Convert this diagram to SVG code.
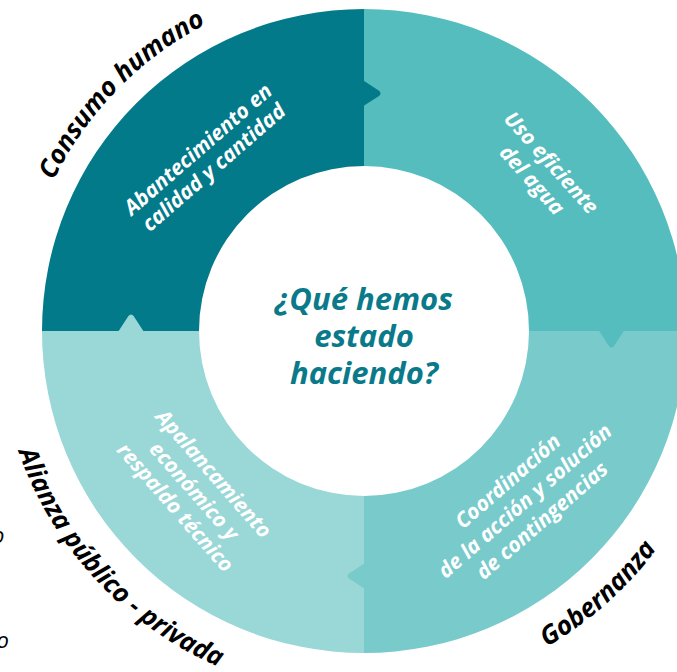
<svg xmlns="http://www.w3.org/2000/svg" width="677" height="672" viewBox="0 0 677 672">
<style>
.q1{fill:#037A8A}.q2{fill:#55BDBD}.q3{fill:#79CBCB}.q4{fill:#9AD7D7}
.outer{font-family:"Open Sans","Liberation Sans",sans-serif;font-style:italic;font-weight:700;font-size:26px;fill:#000}
.inner{font-family:"Open Sans","Liberation Sans",sans-serif;font-style:italic;font-weight:700;font-size:21px;fill:#fff;text-anchor:middle}
.center{font-family:"Open Sans","Liberation Sans",sans-serif;font-style:italic;font-weight:700;font-size:31px;fill:#0A7A8A;text-anchor:middle}
.stray{font-family:"Open Sans","Liberation Sans",sans-serif;font-style:italic;font-weight:400;font-size:22px;fill:#000;text-anchor:end}
</style>
<defs>
<path id="tab" d="M-1,-13 L15,-2.6 Q18,0 15,2.6 L-1,13 Z"/>
<path id="pConsumo" d="M31.9,424.4 A345 345 0 0 1 449.2,-3.3"/>
<path id="pRiego" d="M425.6,-18.6 A355 355 0 0 1 635.9,559.2"/>
<path id="pGob" d="M249.4,677.5 A365 365 0 0 0 721.4,257.0"/>
<path id="pAlianza" d="M14.2,223.4 A366 366 0 0 0 445.7,687.8"/>
</defs>
<g id="ring">
<g id="node-consumo">
<path class="q1" d="M42,331 A322 322 0 0 1 364,9 L364,166 A165 165 0 0 0 199,331 Z"/>
</g>
<g id="node-riego">
<path class="q2" d="M364,9 A322 322 0 0 1 686,331 L529,331 A165 165 0 0 0 364,166 Z"/>
</g>
<g id="node-gobernanza">
<path class="q3" d="M686,331 A322 322 0 0 1 364,653 L364,496 A165 165 0 0 0 529,331 Z"/>
</g>
<g id="node-alianza">
<path class="q4" d="M364,653 A322 322 0 0 1 42,331 L199,331 A165 165 0 0 0 364,496 Z"/>
</g>
</g>
<g id="connectors">
<use href="#tab" class="q1" transform="translate(364,93.3)"/>
<use href="#tab" class="q2" transform="translate(611.5,331) rotate(90)"/>
<use href="#tab" class="q3" transform="translate(364,576) rotate(180)"/>
<use href="#tab" class="q4" transform="translate(131,331) rotate(-90)"/>
</g>
<g id="labels-inner">
<text class="inner" transform="translate(206,158.5) rotate(-41)"><tspan x="0" y="-5">Abantecimiento en</tspan><tspan x="0" y="19">calidad y cantidad</tspan></text>
<text class="inner" transform="translate(541.5,171.5) rotate(48)"><tspan x="0" y="-6">Uso eficiente</tspan><tspan x="0" y="20">del agua</tspan></text>
<text class="inner" transform="translate(525,501) rotate(-41)"><tspan x="0" y="-19">Coordinación</tspan><tspan x="0" y="7">de la acción y solución</tspan><tspan x="0" y="33">de contingencias</tspan></text>
<text class="inner" transform="translate(194,491) rotate(48.6)"><tspan x="0" y="-19">Apalancamiento</tspan><tspan x="0" y="7">económico y</tspan><tspan x="0" y="32">respaldo técnico</tspan></text>
</g>
<g id="labels-outer">
<text class="outer"><textPath href="#pConsumo" startOffset="50%" text-anchor="middle">Consumo humano</textPath></text>
<text class="outer"><textPath href="#pRiego" startOffset="50%" text-anchor="middle">Riego</textPath></text>
<text class="outer"><textPath href="#pGob" startOffset="50%" text-anchor="middle">Gobernanza</textPath></text>
<text class="outer"><textPath href="#pAlianza" startOffset="50%" text-anchor="middle">Alianza público - privada</textPath></text>
</g>
<g id="center">
<text class="center"><tspan x="364" y="310">¿Qué hemos</tspan><tspan x="364" y="347">estado</tspan><tspan x="364" y="384">haciendo?</tspan></text>
</g>
<g id="stray">
<text class="stray" x="4.5" y="543">o</text>
<text class="stray" x="9" y="648">o</text>
</g>
</svg>
